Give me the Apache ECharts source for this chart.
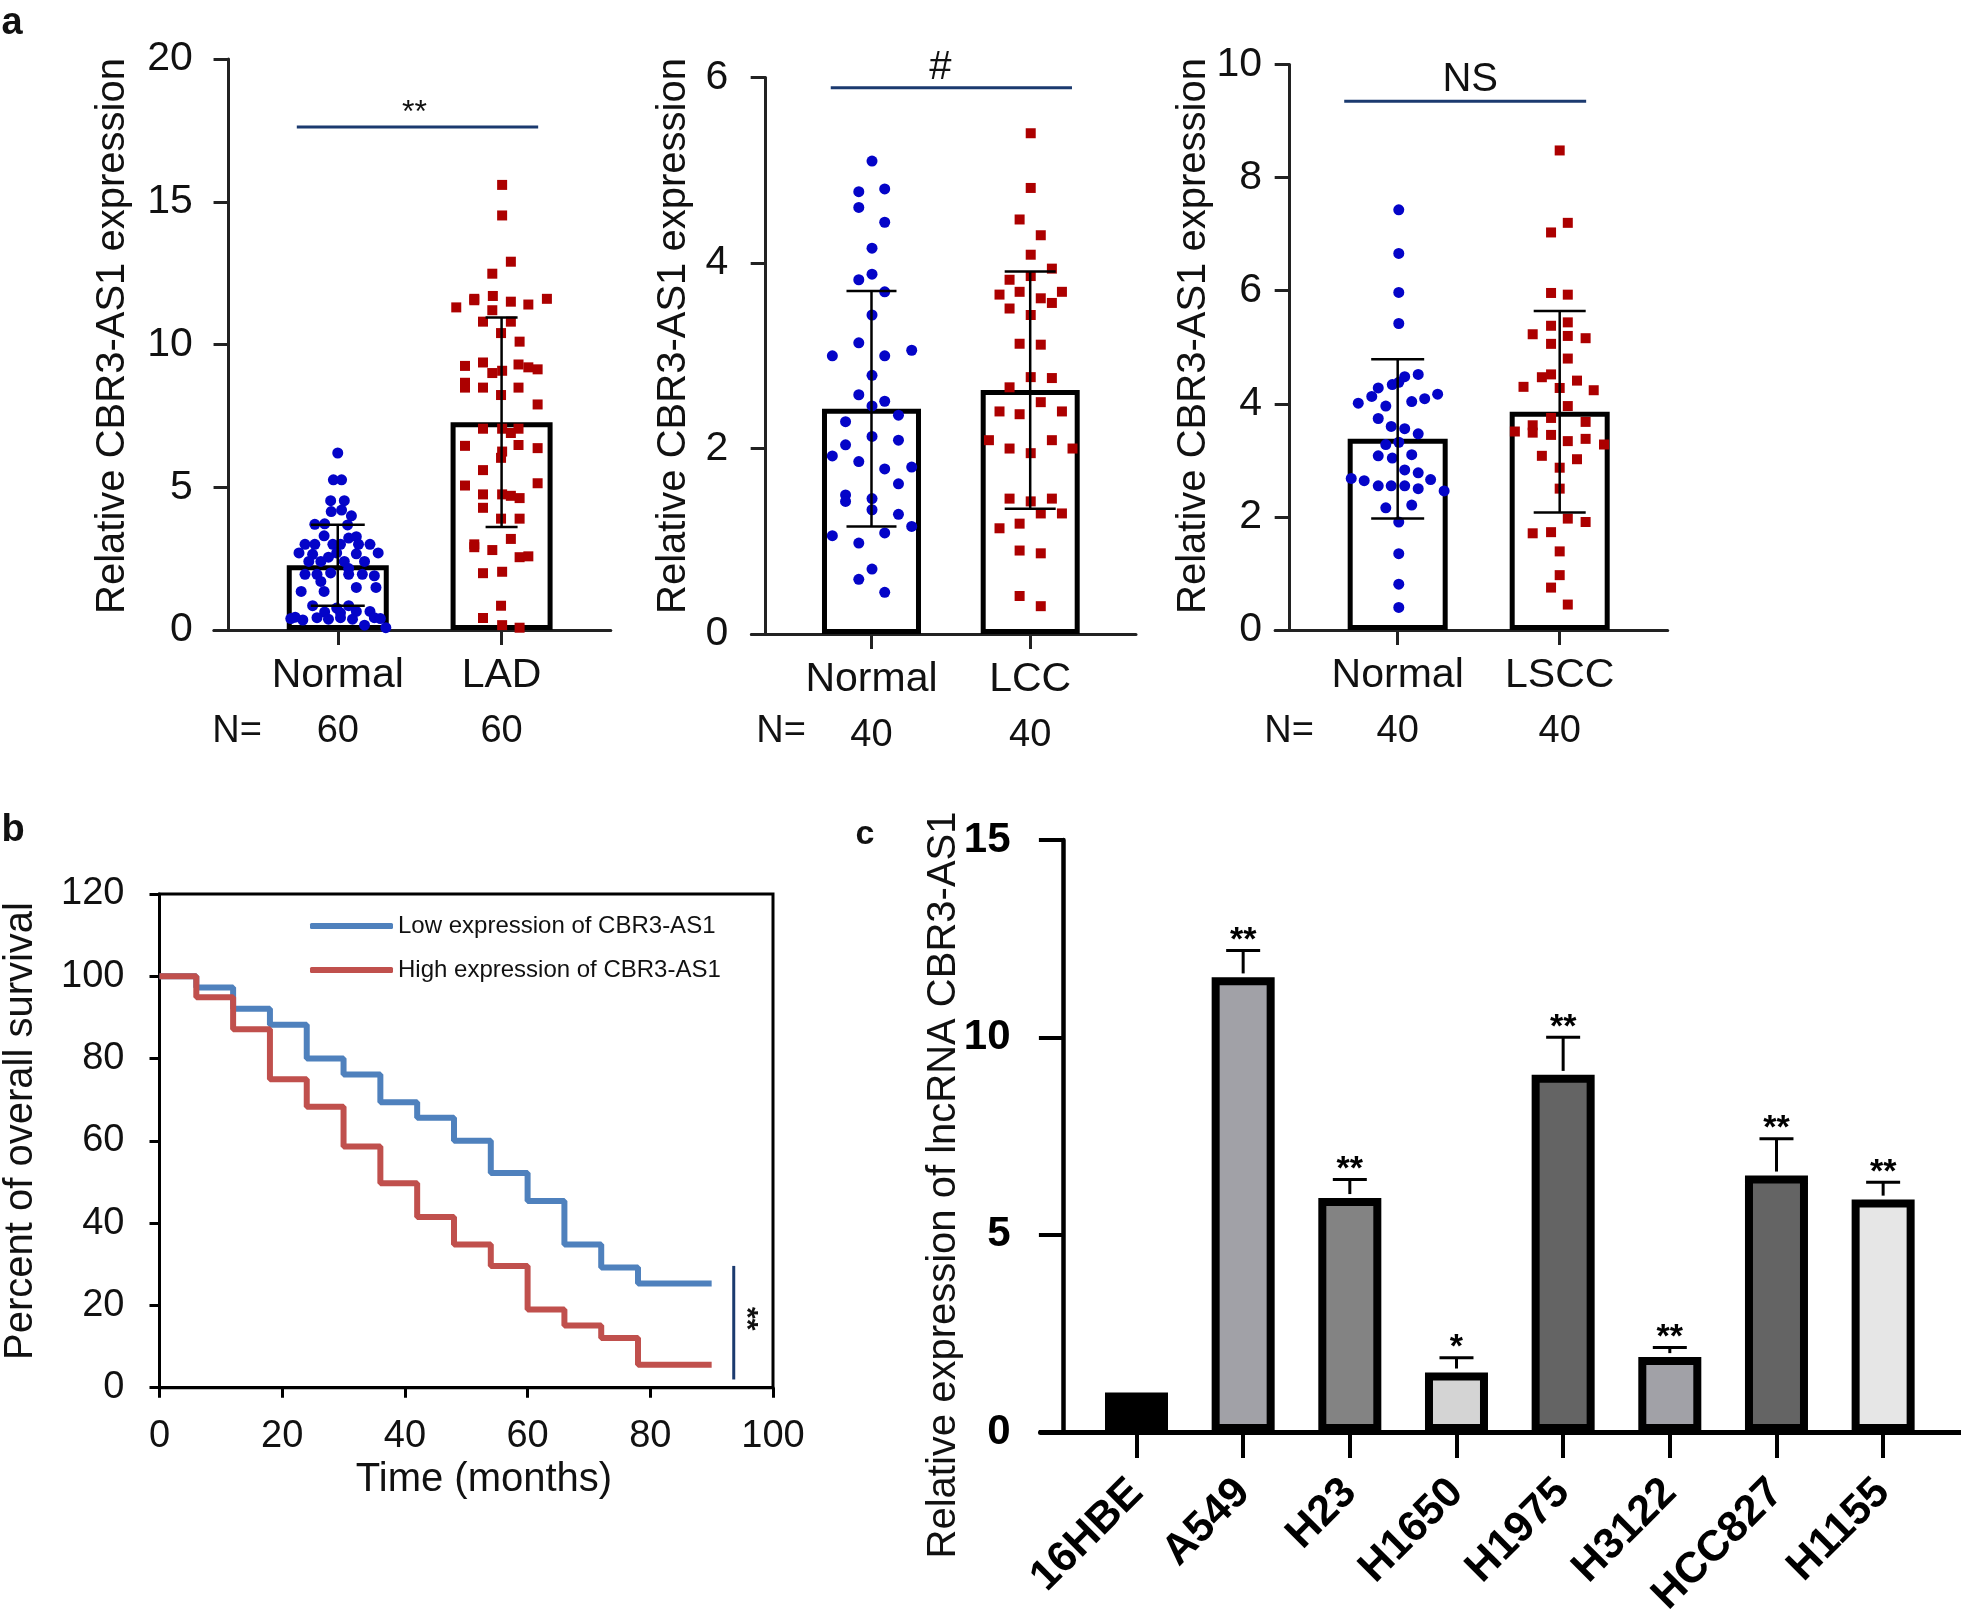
<!DOCTYPE html>
<html>
<head>
<meta charset="utf-8">
<script src="https://cdn.jsdelivr.net/npm/echarts@6/dist/echarts.min.js"></script>
<style>
  html, body { margin: 0; padding: 0; background: #fff; }
  #chart { width: 1961px; height: 1620px; }
</style>
</head>
<body>
<div id="chart"></div>
<script>
// panel a1: Normal vs LAD
const ladNormalVals = [6.2, 5.26, 5.26, 4.53, 4.53, 4.15, 4.2, 4.0, 3.7, 3.72, 3.68, 3.3, 3.22, 3.27, 3.0, 3.0, 3.0, 3.0, 3.0, 3.0, 2.7, 2.65, 2.7, 2.67, 2.7, 2.4, 2.4, 2.4, 2.4, 1.95, 1.95, 2.0, 1.95, 1.95, 1.9, 1.35, 1.35, 1.49, 1.49, 0.85, 0.77, 0.85, 0.63, 0.6, 0.65, 0.65, 0.4, 0.35, 0.43, 0.38, 0.43, 0.38, 0.43, 0.4, 0.17, 0.08, 0.45, 2.15, 2.55, 1.7]
const ladNormalJit = [0, -0.08, 0.07, -0.13, 0.12, -0.12, 0.07, 0.25, -0.42, -0.24, 0.18, -0.25, 0.2, 0.34, -0.6, -0.42, -0.09, 0.05, 0.38, 0.59, -0.71, -0.46, -0.02, 0.34, 0.74, -0.53, -0.31, 0.12, 0.49, -0.6, -0.38, -0.13, 0.2, 0.45, 0.67, -0.67, -0.25, 0.34, 0.7, -0.46, -0.02, 0.2, -0.24, 0.05, 0.34, 0.59, -0.86, -0.64, -0.38, -0.17, 0.05, 0.27, 0.67, 0.78, 0.49, 0.88, -0.78, 0.2, -0.17, -0.31]
const ladVals = [15.59, 14.52, 12.9, 12.48, 11.3, 11.6, 11.7, 11.5, 11.4, 11.6, 11.2, 10.8, 10.8, 10.4, 10.1, 9.25, 9.37, 9.08, 9.3, 9.13, 8.66, 8.49, 8.49, 8.49, 8.23, 7.9, 7.05, 7.05, 7.05, 6.45, 6.48, 6.37, 6.25, 6.03, 5.6, 5.06, 5.14, 4.75, 4.75, 4.62, 4.28, 3.9, 3.9, 3.19, 3.0, 2.8, 2.55, 2.58, 1.99, 2.04, 0.85, 0.42, 0.17, 0.08, 9.0, 6.9, 11.55, 9.2, 2.9, 4.7]
const ladJit = [0.01, 0.01, 0.17, -0.17, -0.83, -0.5, -0.16, 0.17, 0.49, 0.83, -0.17, -0.34, 0.17, -0.01, 0.33, -0.67, -0.34, 0.01, 0.31, 0.66, -0.67, -0.67, -0.34, 0.31, -0.01, 0.66, -0.34, 0.01, 0.31, -0.67, 0.31, 0.66, 0.01, -0.01, -0.34, -0.67, 0.66, -0.34, 0.01, 0.33, -0.34, -0.01, 0.33, 0.17, -0.5, -0.17, 0.33, 0.49, -0.34, 0.01, -0.01, -0.34, 0.01, 0.33, -0.17, 0.17, -0.5, 0.49, -0.5, 0.17]
const ladMeans = [2.27, 7.28]
const ladSd = [1.42, 3.67]

// panel a2: Normal vs LCC
const lccNormalVals = [5.1, 4.77, 4.8, 4.6, 4.44, 4.16, 3.82, 3.88, 3.69, 3.44, 3.0, 3.14, 3.0, 3.06, 2.79, 2.58, 2.51, 2.46, 2.29, 2.36, 2.13, 2.04, 2.09, 1.92, 1.86, 1.78, 1.8, 1.62, 1.5, 1.43, 1.46, 1.34, 1.29, 1.16, 1.06, 1.09, 0.98, 0.7, 0.59, 0.45]
const lccNormalJit = [0.01, -0.24, 0.25, -0.24, 0.25, 0.01, -0.24, 0.01, 0.25, 0.01, -0.74, -0.24, 0.25, 0.76, 0.01, -0.24, 0.25, 0.01, -0.49, 0.51, 0.01, -0.49, 0.51, -0.74, -0.24, 0.25, 0.76, 0.51, -0.49, -0.49, 0.01, 0.01, 0.51, 0.76, -0.74, 0.25, -0.24, 0.01, -0.24, 0.25]
const lccVals = [5.4, 4.81, 4.47, 4.3, 4.09, 3.94, 3.82, 3.86, 3.66, 3.69, 3.62, 3.69, 3.57, 3.51, 3.44, 3.13, 3.12, 2.77, 2.76, 2.66, 2.5, 2.4, 2.37, 2.4, 2.09, 2.0, 1.95, 2.09, 2.0, 1.46, 1.43, 1.46, 1.3, 1.3, 1.14, 1.19, 0.9, 0.87, 0.41, 0.3]
const lccJit = [0.01, 0.01, -0.2, 0.2, 0.01, 0.41, -0.39, 0.01, -0.58, -0.2, 0.2, 0.6, 0.41, -0.39, 0.01, -0.2, 0.2, 0.01, 0.41, -0.39, 0.2, -0.58, -0.2, 0.6, -0.78, -0.39, 0.01, 0.41, 0.8, -0.39, 0.01, 0.41, 0.2, 0.6, -0.58, -0.2, -0.2, 0.2, -0.2, 0.2]
const lccMeans = [2.43, 2.63]
const lccSd = [1.27, 1.28]

// panel a3: Normal vs LSCC
const lsccNormalVals = [7.43, 6.66, 5.97, 5.42, 4.52, 4.48, 4.28, 4.34, 4.17, 4.09, 4.01, 4.13, 4.04, 3.96, 3.74, 3.6, 3.56, 3.47, 3.28, 3.32, 3.08, 3.04, 3.1, 2.83, 2.78, 2.68, 2.64, 2.66, 2.55, 2.55, 2.55, 2.5, 2.46, 2.16, 2.21, 1.91, 1.35, 0.81, 0.4, 4.38]
const lsccNormalJit = [0.02, 0.02, 0.02, 0.02, 0.38, 0.13, -0.36, -0.1, 0.74, 0.5, -0.73, -0.48, 0.26, -0.22, -0.36, -0.12, 0.13, 0.38, -0.22, 0.02, -0.36, -0.1, 0.26, 0.13, 0.38, -0.86, -0.62, 0.61, -0.36, -0.12, 0.13, 0.38, 0.86, -0.22, 0.26, 0.02, 0.02, 0.02, 0.02, 0.02]
const lsccVals = [8.48, 7.2, 7.03, 5.96, 5.93, 5.38, 5.44, 5.23, 5.2, 5.16, 5.06, 4.8, 4.47, 4.52, 4.41, 4.3, 4.28, 4.24, 3.96, 3.75, 3.68, 3.51, 3.62, 3.49, 3.45, 3.34, 3.38, 3.28, 3.08, 3.02, 2.87, 2.5, 1.97, 1.91, 1.71, 1.73, 1.39, 0.97, 0.75, 0.45]
const lsccJit = [0, 0.15, -0.16, -0.16, 0.15, -0.16, 0.15, -0.5, 0.15, 0.48, -0.16, 0.15, -0.33, -0.16, 0.32, -0.67, 0, 0.63, 0.15, -0.16, 0.48, -0.83, -0.5, -0.5, -0.16, 0.15, 0.48, 0.82, -0.33, 0.32, 0, 0, 0.15, 0.48, -0.5, -0.16, 0, 0, -0.16, 0.15]
const lsccMeans = [3.38, 3.86]
const lsccSd = [1.41, 1.78]

// panel b: survival curves
const months = [0, 6, 12, 18, 24, 30, 36, 42, 48, 54, 60, 66, 72, 78, 90]
const lowSurv = [100, 97.3, 92.1, 88.2, 80.0, 76.1, 69.4, 65.6, 60.0, 52.2, 45.4, 34.8, 29.2, 25.3, 25.3]
const highSurv = [100, 94.9, 87.1, 75.0, 68.3, 58.6, 49.7, 41.5, 34.8, 29.6, 19.0, 15.1, 12.1, 5.6, 5.6]

// panel c: cell lines
const cells = ['16HBE', 'A549', 'H23', 'H1650', 'H1975', 'H3122', 'HCC827', 'H1155']
const cellVals = [1.0, 11.52, 5.93, 1.51, 9.05, 1.9, 6.5, 5.89]
const cellErr = [0, 0.68, 0.47, 0.37, 0.95, 0.24, 0.93, 0.44]
const cellStars = ['', '**', '**', '*', '**', '**', '**', '**']
const cellColors = ['#000000', '#a1a1a7', '#838383', '#d4d4d4', '#646464', '#a1a1a7', '#646464', '#e6e6e6']

const FONT = '"Liberation Sans", Arial, sans-serif'
const INK = '#111'
const NAVY = '#1b3a6f'
const BLUE = '#0404c8'
const RED = '#ac0000'

const grids = []
const xAxes = []
const yAxes = []
const series = []

// error bar drawn through the axes (x, low, high, cap half width, line width)
const renderErr = (params, api) => {
  const x = api.value(0)
  const top = api.coord([x, api.value(2)])
  const bot = api.coord([x, api.value(1)])
  const half = api.value(3)
  const lw = api.value(4)
  const st = { stroke: '#000', lineWidth: lw }
  const children = [
    { type: 'line', shape: { x1: top[0], y1: top[1], x2: bot[0], y2: bot[1] }, style: st },
    { type: 'line', shape: { x1: top[0] - half, y1: top[1], x2: top[0] + half, y2: top[1] }, style: st }
  ]
  if (api.value(1) !== api.value(5)) {
    children.push({ type: 'line', shape: { x1: bot[0] - half, y1: bot[1], x2: bot[0] + half, y2: bot[1] }, style: st })
  }
  return { type: 'group', children }
}

// significance bracket with its text
const sigSeries = (gi, x1, x2, y, text, fontSize, lift, shift, vertical) => ({
  type: 'custom',
  xAxisIndex: gi,
  yAxisIndex: gi,
  z: 5,
  silent: true,
  data: [[x1, x2, y]],
  encode: { x: [0, 1], y: 2 },
  renderItem: (params, api) => {
    if (vertical) {
      // x1 = x position, x2 / y = low / high
      const a = api.coord([api.value(0), api.value(1)])
      const b = api.coord([api.value(0), api.value(2)])
      return {
        type: 'group',
        children: [
          { type: 'line', shape: { x1: a[0], y1: a[1], x2: b[0], y2: b[1] }, style: { stroke: NAVY, lineWidth: 3 } },
          {
            type: 'text', x: a[0] + lift, y: (a[1] + b[1]) / 2 + shift, rotation: -Math.PI / 2,
            style: { text, font: `bold ${fontSize}px ${FONT}`, fill: INK, align: 'center', verticalAlign: 'middle', textAlign: 'center', textVerticalAlign: 'middle' }
          }
        ]
      }
    }
    const a = api.coord([api.value(0), api.value(2)])
    const b = api.coord([api.value(1), api.value(2)])
    return {
      type: 'group',
      children: [
        { type: 'line', shape: { x1: a[0], y1: a[1], x2: b[0], y2: b[1] }, style: { stroke: NAVY, lineWidth: 3 } },
        {
          type: 'text', x: (a[0] + b[0]) / 2 + shift, y: a[1] - lift,
          style: { text, font: `${fontSize}px ${FONT}`, fill: INK, align: 'center', verticalAlign: 'middle', textAlign: 'center', textVerticalAlign: 'middle' }
        }
      ]
    }
  }
})

// one dot + bar panel of figure a
const addDotPanel = (p) => {
  const gi = grids.length
  grids.push({ left: p.left, top: p.top, width: p.width, height: p.height, containLabel: false })
  const names = { 2: p.cats[0], 5: p.cats[1] }
  xAxes.push({
    type: 'value', gridIndex: gi, min: -0.27, max: 7,
    splitLine: { show: false },
    axisLine: { show: true, onZero: true, lineStyle: { color: '#222', width: 3 } },
    axisTick: { show: true, customValues: [2, 5], length: 15, lineStyle: { color: '#222', width: 3 } },
    axisLabel: {
      customValues: [2, 5], margin: 21,
      formatter: (v) => `{c|${names[Math.round(v)]}}\n{n|${p.n}}`,
      rich: {
        c: { fontSize: 41, lineHeight: 50, fontFamily: FONT, color: INK },
        n: { fontSize: 38, lineHeight: 62, fontFamily: FONT, color: INK }
      }
    }
  })
  yAxes.push({
    type: 'value', gridIndex: gi, min: 0, max: p.ymax, interval: p.step,
    splitLine: { show: false },
    axisLine: { show: true, onZero: true, lineStyle: { color: '#222', width: 3 } },
    axisTick: { show: true, length: 15, lineStyle: { color: '#222', width: 3 } },
    axisLabel: { fontSize: 41, fontFamily: FONT, color: INK, margin: p.labelMargin }
  })
  series.push({
    type: 'bar', xAxisIndex: gi, yAxisIndex: gi, barWidth: p.barWidth, silent: true,
    data: [[2, p.means[0]], [5, p.means[1]]],
    itemStyle: { color: '#fff', borderColor: '#000', borderWidth: 5 }
  })
  series.push({
    type: 'scatter', xAxisIndex: gi, yAxisIndex: gi, symbol: 'circle', symbolSize: 11, silent: true,
    data: p.normVals.map((v, k) => [2 + p.normJit[k], v]),
    itemStyle: { color: BLUE, opacity: 1 }
  })
  series.push({
    type: 'scatter', xAxisIndex: gi, yAxisIndex: gi, symbol: 'rect', symbolSize: 10, silent: true,
    data: p.caseVals.map((v, k) => [5 + p.caseJit[k], v]),
    itemStyle: { color: RED, opacity: 1 }
  })
  series.push({
    type: 'custom', xAxisIndex: gi, yAxisIndex: gi, z: 4, silent: true,
    encode: { x: 0, y: [1, 2] },
    data: [
      [2, p.means[0] - p.sd[0], p.means[0] + p.sd[0], p.caps[0], 2.5, p.means[0]],
      [5, p.means[1] - p.sd[1], p.means[1] + p.sd[1], p.caps[1], 2.5, p.means[1]]
    ],
    renderItem: renderErr
  })
  series.push(sigSeries(gi, p.sig[0], p.sig[1], p.sig[2], p.sigText, p.sigSize, p.sigLift, p.sigShift))
}

addDotPanel({
  left: 213.8, top: 59, width: 397, height: 571,
  cats: ['Normal', 'LAD'], n: 60, ymax: 20, step: 5, labelMargin: 21, barWidth: 102,
  means: ladMeans, sd: ladSd, caps: [27, 16],
  normVals: ladNormalVals, normJit: ladNormalJit, caseVals: ladVals, caseJit: ladJit,
  sig: [1.25, 5.67, 17.62], sigText: '**', sigSize: 32, sigLift: 14, sigShift: -3
})
addDotPanel({
  left: 751.4, top: 77.6, width: 384.6, height: 556.4,
  cats: ['Normal', 'LCC'], n: 40, ymax: 6, step: 2, labelMargin: 23, barWidth: 99,
  means: lccMeans, sd: lccSd, caps: [25, 25.5],
  normVals: lccNormalVals, normJit: lccNormalJit, caseVals: lccVals, caseJit: lccJit,
  sig: [1.23, 5.79, 5.89], sigText: '#', sigSize: 40, sigLift: 20, sigShift: -11
})
addDotPanel({
  left: 1275.1, top: 64.5, width: 392.6, height: 565.5,
  cats: ['Normal', 'LSCC'], n: 40, ymax: 10, step: 2, labelMargin: 13, barWidth: 100,
  means: lsccMeans, sd: lsccSd, caps: [26.5, 26],
  normVals: lsccNormalVals, normJit: lsccNormalJit, caseVals: lsccVals, caseJit: lsccJit,
  sig: [1.01, 5.49, 9.35], sigText: 'NS', sigSize: 40, sigLift: 21, sigShift: 5
})

// panel b: Kaplan-Meier style steps
const gb = grids.length
grids.push({ left: 159.5, top: 894, width: 613.5, height: 493.7, show: true, borderColor: '#000', borderWidth: 3, containLabel: false })
xAxes.push({
  type: 'value', gridIndex: gb, min: 0, max: 100, interval: 20,
  splitLine: { show: false },
  axisLine: { show: true, lineStyle: { color: '#000', width: 3 } },
  axisTick: { show: true, length: 10, lineStyle: { color: '#000', width: 3 } },
  axisLabel: { fontSize: 38, fontFamily: FONT, color: INK, margin: 30 }
})
yAxes.push({
  type: 'value', gridIndex: gb, min: 0, max: 120, interval: 20,
  splitLine: { show: false },
  axisLine: { show: true, lineStyle: { color: '#000', width: 3 } },
  axisTick: { show: true, length: 10, lineStyle: { color: '#000', width: 3 } },
  axisLabel: { fontSize: 38, fontFamily: FONT, color: INK, margin: 35 }
})
series.push({
  name: 'Low expression of CBR3-AS1', type: 'line', step: 'end', xAxisIndex: gb, yAxisIndex: gb,
  showSymbol: false, silent: true, z: 3,
  data: months.map((m, k) => [m, lowSurv[k]]),
  lineStyle: { color: '#4f81bd', width: 6 }, itemStyle: { color: '#4f81bd' }
})
series.push({
  name: 'High expression of CBR3-AS1', type: 'line', step: 'end', xAxisIndex: gb, yAxisIndex: gb,
  showSymbol: false, silent: true, z: 4,
  data: months.map((m, k) => [m, highSurv[k]]),
  lineStyle: { color: '#c0504d', width: 6 }, itemStyle: { color: '#c0504d' }
})
series.push(sigSeries(gb, 93.6, 2, 29.6, '**', 30, 13, -4, true))

// panel c: cell line bars
const gc = grids.length
const cellX = cells.map((c, i) => i + 0.69)
grids.push({ left: 1040.5, top: 840, width: 920.5, height: 595, containLabel: false })
xAxes.push({
  type: 'value', gridIndex: gc, min: -0.21, max: 8.42,
  splitLine: { show: false },
  axisLine: { show: true, onZero: true, lineStyle: { color: '#000', width: 5 } },
  axisTick: { show: true, customValues: cellX, length: 26, lineStyle: { color: '#000', width: 4 } },
  axisLabel: {
    customValues: cellX, rotate: 45, margin: 54,
    fontSize: 43, fontWeight: 'bold', fontFamily: FONT, color: '#000',
    formatter: (v) => cells[Math.round(v - 0.69)]
  }
})
yAxes.push({
  type: 'value', gridIndex: gc, min: 0, max: 15, interval: 5,
  splitLine: { show: false },
  axisLine: { show: true, onZero: true, lineStyle: { color: '#000', width: 4.5 } },
  axisTick: { show: true, length: 24, lineStyle: { color: '#000', width: 4 } },
  axisLabel: { fontSize: 42, fontWeight: 'bold', fontFamily: FONT, color: '#000', margin: 30 }
})
series.push({
  type: 'bar', xAxisIndex: gc, yAxisIndex: gc, barWidth: 63, silent: true,
  data: cells.map((c, i) => ({ value: [cellX[i], cellVals[i]], itemStyle: { color: cellColors[i] } })),
  itemStyle: { borderColor: '#000', borderWidth: 8 }
})
series.push({
  type: 'custom', xAxisIndex: gc, yAxisIndex: gc, z: 4, silent: true,
  encode: { x: 0, y: [1, 2] },
  data: cells.map((c, i) => [cellX[i], cellVals[i] + 0.1, cellVals[i] + cellErr[i], 17, 3, cellVals[i] + 0.1]).filter((d, i) => cellErr[i] > 0),
  renderItem: renderErr
})
series.push({
  type: 'custom', xAxisIndex: gc, yAxisIndex: gc, z: 5, silent: true,
  encode: { x: 0, y: 1 },
  data: cells.map((c, i) => [cellX[i], cellVals[i] + cellErr[i], i]),
  renderItem: (params, api) => {
    const pt = api.coord([api.value(0), api.value(1)])
    return {
      type: 'text', x: pt[0], y: pt[1] - 10,
      style: { text: cellStars[api.value(2)], font: `bold 34px ${FONT}`, fill: '#000', align: 'center', verticalAlign: 'middle', textAlign: 'center', textVerticalAlign: 'middle' }
    }
  }
})

// free text: panel letters, N= rows, axis titles
const txt = (x, y, text, font, rot) => ({
  type: 'text', x, y, rotation: rot || 0, silent: true,
  style: { text, font, fill: INK, align: 'center', verticalAlign: 'middle', textAlign: 'center', textVerticalAlign: 'middle' }
})
const graphic = [
  txt(12, 24, 'a', `bold 38px ${FONT}`),
  txt(13, 831, 'b', `bold 38px ${FONT}`),
  txt(865, 835, 'c', `bold 34px ${FONT}`),
  txt(237, 732, 'N=', `38px ${FONT}`),
  txt(781, 732, 'N=', `38px ${FONT}`),
  txt(1289, 732, 'N=', `38px ${FONT}`),
  txt(113, 336, 'Relative CBR3-AS1 expression', `40px ${FONT}`, Math.PI / 2),
  txt(674, 336, 'Relative CBR3-AS1 expression', `40px ${FONT}`, Math.PI / 2),
  txt(1194, 336, 'Relative CBR3-AS1 expression', `40px ${FONT}`, Math.PI / 2),
  txt(21, 1131, 'Percent of overall survival', `40px ${FONT}`, Math.PI / 2),
  txt(484, 1480, 'Time (months)', `40px ${FONT}`),
  txt(944, 1185, 'Relative expression of lncRNA CBR3-AS1', `40px ${FONT}`, Math.PI / 2)
]

const chart = echarts.init(document.getElementById('chart'), null, { renderer: 'canvas' })
chart.setOption({
  backgroundColor: '#fff',
  animation: false,
  textStyle: { fontFamily: FONT },
  grid: grids,
  xAxis: xAxes,
  yAxis: yAxes,
  legend: {
    orient: 'vertical', left: 310, top: 911, itemGap: 14, padding: 0,
    itemWidth: 83, itemHeight: 6, icon: 'roundRect',
    textStyle: { fontSize: 24, fontFamily: FONT, color: INK, lineHeight: 30 },
    data: ['Low expression of CBR3-AS1', 'High expression of CBR3-AS1']
  },
  series,
  graphic
})
</script>
</body>
</html>
